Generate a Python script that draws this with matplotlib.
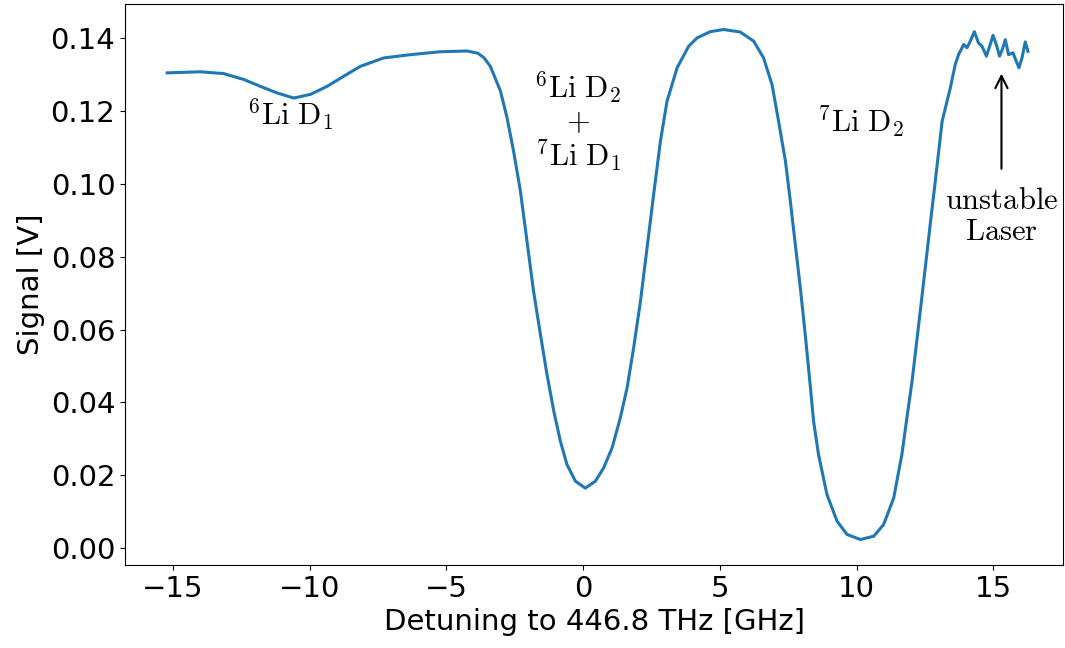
import matplotlib
matplotlib.use("Agg")
import matplotlib.pyplot as plt

# spectroscopy trace
detuning = [-15.21, -13.99, -13.14, -12.41, -11.80, -11.19, -10.58, -9.97, -9.36, -8.75,
            -8.14, -7.29, -6.31, -5.22, -4.24, -3.85, -3.63, -3.39, -3.02, -2.78, -2.54,
            -2.29, -2.05, -1.81, -1.56, -1.32, -1.07, -0.83, -0.59, -0.28, 0.08,
            0.45, 0.75, 1.06, 1.36, 1.61, 1.85, 2.10, 2.34, 2.58, 2.83,
            3.07, 3.44, 3.86, 4.17, 4.65, 5.14, 5.75, 6.24, 6.60, 6.91,
            7.15, 7.40, 7.58, 7.76, 7.95, 8.13, 8.31, 8.43, 8.61, 8.92,
            9.29, 9.65, 10.14, 10.63, 10.99, 11.36, 11.66, 11.85, 12.03, 12.19,
            12.33, 12.52, 12.70, 12.88, 13.13, 13.43, 13.61, 13.73, 13.92, 14.04,
            14.16, 14.31, 14.46, 14.59, 14.75, 14.89, 14.99, 15.11, 15.23, 15.33,
            15.44, 15.56, 15.72, 15.84, 15.94, 16.05, 16.17, 16.27]
signal = [0.1304, 0.1307, 0.1302, 0.1286, 0.1267, 0.1249, 0.1235, 0.1245, 0.1267, 0.1295,
          0.1322, 0.1345, 0.1354, 0.1362, 0.1364, 0.1358, 0.1346, 0.1322, 0.1254, 0.1181, 0.1089,
          0.0979, 0.0842, 0.0705, 0.0587, 0.0477, 0.0376, 0.0294, 0.0230, 0.0184, 0.0165,
          0.0184, 0.0220, 0.0275, 0.0357, 0.0440, 0.0550, 0.0678, 0.0824, 0.0970, 0.1117,
          0.1226, 0.1318, 0.1377, 0.1400, 0.1417, 0.1423, 0.1416, 0.1391, 0.1345, 0.1272,
          0.1171, 0.1062, 0.0952, 0.0834, 0.0711, 0.0582, 0.0444, 0.0348, 0.0257, 0.0147,
          0.0074, 0.0038, 0.0024, 0.0033, 0.0065, 0.0138, 0.0258, 0.0362, 0.0458, 0.0560,
          0.0650, 0.0774, 0.0892, 0.1007, 0.1171, 0.1263, 0.1327, 0.1354, 0.1382, 0.1373,
          0.1391, 0.1417, 0.1386, 0.1377, 0.1350, 0.1382, 0.1407, 0.1382, 0.1350, 0.1368,
          0.1395, 0.1354, 0.1359, 0.1336, 0.1318, 0.1345, 0.1389, 0.1363]

labels = [r"$^6\mathrm{Li\ D}_1$",
          "$^6\\mathrm{Li\\ D}_2$\n$+$\n$^7\\mathrm{Li\\ D}_1$",
          r"$^7\mathrm{Li\ D}_2$"]
label_pos = [(-10.7, 0.119), (-0.2, 0.117), (10.15, 0.117)]

plt.rcParams["mathtext.fontset"] = "cm"

fig = plt.figure(figsize=(10.65, 6.48), dpi=100)
ax = fig.add_axes([125 / 1065, 83 / 648, 938 / 1065, 561 / 648])
ax.plot(detuning, signal, color="#1f77b4", lw=2.2, solid_joinstyle="round")

for txt, (x, y) in zip(labels, label_pos):
    ax.text(x, y, txt, ha="center", va="center", fontsize=22, linespacing=1.05)

ax.annotate("$\\mathrm{unstable}$\n$\\mathrm{Laser}$", xy=(15.3, 0.1302),
            xytext=(15.3, 0.0995), ha="center", va="top", fontsize=22,
            linespacing=1.1,
            arrowprops=dict(arrowstyle="->", color="black", lw=1.5,
                            shrinkA=10, shrinkB=0))

ax.set_xlim(-16.75, 17.55)
ax.set_xticks([-15, -10, -5, 0, 5, 10, 15])
ax.set_xlabel("Detuning to 446.8 THz [GHz]", fontsize=21)
ax.set_ylabel("Signal [V]", fontsize=21)
ax.tick_params(labelsize=21)

fig.savefig("out.png", dpi=100)
